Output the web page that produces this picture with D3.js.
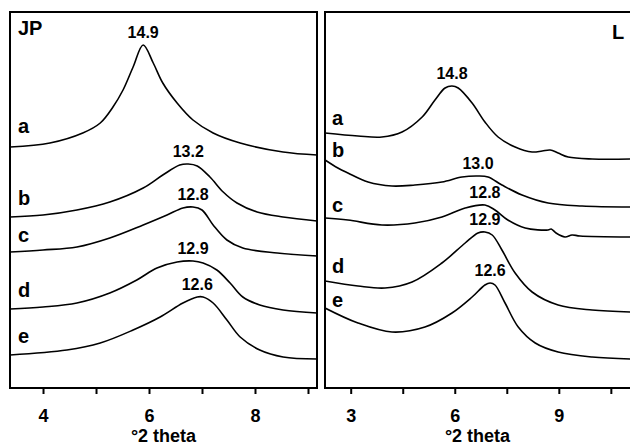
<!DOCTYPE html>
<html>
<head>
<meta charset="utf-8">
<script src="https://cdn.jsdelivr.net/npm/d3@7/dist/d3.min.js"></script>
<style>
    body { margin: 0; background: #fff; }
    svg text { font-family: "Liberation Sans", Arial, sans-serif; font-weight: bold; fill: #000; }
</style>
</head>
<body>
<div id="container"></div>
<script>
// trace letters, top to bottom
const traceNames = ['a', 'b', 'c', 'd', 'e'];

// JP panel: [°2θ, intensity (offset)]
const jpA = [[3.38,241],[4.13,245],[4.75,255],[5.08,265],[5.32,281],[5.51,298],[5.70,321],[5.89,343],[6.08,325],[6.26,305],[6.53,285],[6.83,268],[7.21,255],[7.72,245],[8.53,236],[9.17,233]];
const jpB = [[3.38,171],[4.00,173],[4.64,178],[5.26,186],[5.89,200],[6.26,213],[6.58,223],[6.74,224],[6.91,222],[7.15,211],[7.40,196],[7.66,185],[8.04,176],[8.53,171],[9.17,167]];
const jpC = [[3.38,136],[4.00,138],[4.64,141],[5.26,150],[5.89,163],[6.34,173],[6.64,180],[6.83,181],[7.00,178],[7.21,163],[7.47,148],[7.77,140],[8.42,135],[9.17,132]];
const jpD = [[3.38,79],[4.00,81],[4.64,85],[5.26,95],[5.77,108],[6.15,120],[6.53,126],[6.83,127],[7.02,125],[7.28,118],[7.53,105],[7.77,91],[8.09,83],[8.53,78],[9.17,75]];
const jpE = [[3.38,33],[4.45,38],[5.08,45],[5.70,58],[6.21,71],[6.64,85],[6.91,91],[7.02,91],[7.21,85],[7.47,68],[7.72,51],[8.09,38],[8.53,31],[9.17,29]];
const jpPeaks = ['14.9', '13.2', '12.8', '12.9', '12.6'];

// L panel
const lA = [[2.26,255],[3.21,252],[3.90,251],[4.48,256],[5.06,271],[5.43,288],[5.72,300],[5.92,302],[6.10,300],[6.50,285],[6.87,266],[7.25,251],[7.74,241],[8.23,236],[8.52,237],[8.75,238],[8.98,235],[9.27,231],[9.96,229],[11.11,229]];
const lB = [[2.26,228],[2.63,220],[2.92,215],[3.50,206],[4.19,202],[4.85,203],[5.63,206],[6.21,211],[6.67,212],[6.96,211],[7.36,203],[7.94,193],[8.69,185],[9.67,182],[11.11,181]];
const lC = [[2.26,170],[2.92,168],[3.90,163],[4.85,165],[5.63,171],[6.30,180],[6.87,183],[7.16,178],[7.53,168],[8.03,160],[8.69,158],[8.78,159],[8.92,155],[9.18,151],[9.38,153],[9.61,152],[11.11,151]];
const lD = [[2.26,107],[3.21,102],[3.99,100],[4.77,106],[5.63,125],[6.30,145],[6.67,155],[6.87,156],[7.08,153],[7.36,138],[7.74,115],[8.23,96],[8.98,83],[9.96,78],[11.11,76]];
const lE = [[2.26,80],[3.21,65],[4.19,56],[5.14,61],[5.92,75],[6.50,91],[6.87,103],[7.02,105],[7.16,103],[7.45,85],[7.83,61],[8.32,45],[8.98,36],[9.96,31],[11.11,29]];
const lPeaks = ['14.8', '13.0', '12.8', '12.9', '12.6'];

// axes
const jpDomain = [3.377, 9.17];
const jpTicks = [4, 5, 6, 7, 8, 9];
const jpTickLabels = [4, 6, 8];
const lDomain = [2.259, 11.11];
const lTicks = [3, 4.5, 6, 7.5, 9, 10.5];
const lTickLabels = [3, 6, 9];
const yDomain = [0, 376];
const peakWindow = [5, 8];   // where the basal reflection sits

const W = 630, H = 445;
const plotTop = 12, plotBottom = 388;

const panels = [
    { title: 'JP', titleX: 18, titleY: 35,
      x0: 10, x1: 317, domain: jpDomain, ticks: jpTicks, tickLabels: jpTickLabels,
      traces: [jpA, jpB, jpC, jpD, jpE], peaks: jpPeaks,
      letterX: 18, letterY: [133, 205, 242, 297, 343] },
    { title: 'L', titleX: 612, titleY: 39,
      x0: 325, x1: 632, domain: lDomain, ticks: lTicks, tickLabels: lTickLabels,
      traces: [lA, lB, lC, lD, lE], peaks: lPeaks,
      letterX: 332, letterY: [125, 157, 212, 273, 307] }
];

const svg = d3.select('#container').append('svg')
    .attr('width', W)
    .attr('height', H);

const y = d3.scaleLinear().domain(yDomain).range([plotBottom, plotTop]);

function peakOf(trace) {
    return d3.greatest(trace.filter(v => v[0] >= peakWindow[0] && v[0] <= peakWindow[1]), v => v[1]);
}

panels.forEach((p, i) => {
    const x = d3.scaleLinear().domain(p.domain).range([p.x0, p.x1]);
    const g = svg.append('g');

    svg.append('clipPath')
        .attr('id', 'clip' + i)
        .append('rect')
        .attr('x', p.x0).attr('y', plotTop)
        .attr('width', p.x1 - p.x0).attr('height', plotBottom - plotTop);

    const line = d3.line()
        .x(d => x(d[0]))
        .y(d => y(d[1]))
        .curve(d3.curveCatmullRom.alpha(0.5));

    g.append('g')
        .attr('clip-path', `url(#clip${i})`)
        .selectAll('path')
        .data(p.traces)
        .enter()
        .append('path')
        .attr('d', line)
        .attr('fill', 'none')
        .attr('stroke', '#000')
        .attr('stroke-width', 1.6);

    // peak d-spacing labels above each maximum
    g.selectAll('text.peak')
        .data(p.traces)
        .enter()
        .append('text')
        .attr('class', 'peak')
        .attr('x', d => x(peakOf(d)[0]))
        .attr('y', d => y(peakOf(d)[1]) - 7)
        .attr('text-anchor', 'middle')
        .style('font-size', '16px')
        .text((d, j) => p.peaks[j]);

    g.selectAll('text.letter')
        .data(traceNames)
        .enter()
        .append('text')
        .attr('class', 'letter')
        .attr('x', p.letterX)
        .attr('y', (d, j) => p.letterY[j])
        .style('font-size', '20px')
        .text(d => d);

    g.append('text')
        .attr('x', p.titleX)
        .attr('y', p.titleY)
        .style('font-size', '20px')
        .text(p.title);

    const axis = d3.axisBottom(x)
        .tickValues(p.ticks)
        .tickSize(6)
        .tickPadding(15)
        .tickFormat(d => p.tickLabels.includes(d) ? d : '');
    const ax = g.append('g')
        .attr('transform', `translate(0,${plotBottom})`)
        .call(axis);
    ax.select('.domain').remove();
    ax.selectAll('.tick line').attr('stroke-width', 2);
    ax.selectAll('.tick text')
        .style('font-size', '18px')
        .style('font-family', '"Liberation Sans", Arial, sans-serif')
        .style('font-weight', 'bold');

    g.append('rect')
        .attr('x', p.x0).attr('y', plotTop)
        .attr('width', p.x1 - p.x0).attr('height', plotBottom - plotTop)
        .attr('fill', 'none')
        .attr('stroke', '#000')
        .attr('stroke-width', 2);

    g.append('text')
        .attr('x', (p.x0 + Math.min(p.x1, W)) / 2)
        .attr('y', 442)
        .attr('text-anchor', 'middle')
        .style('font-size', '18px')
        .text('°2 theta');
});
</script>
</body>
</html>
